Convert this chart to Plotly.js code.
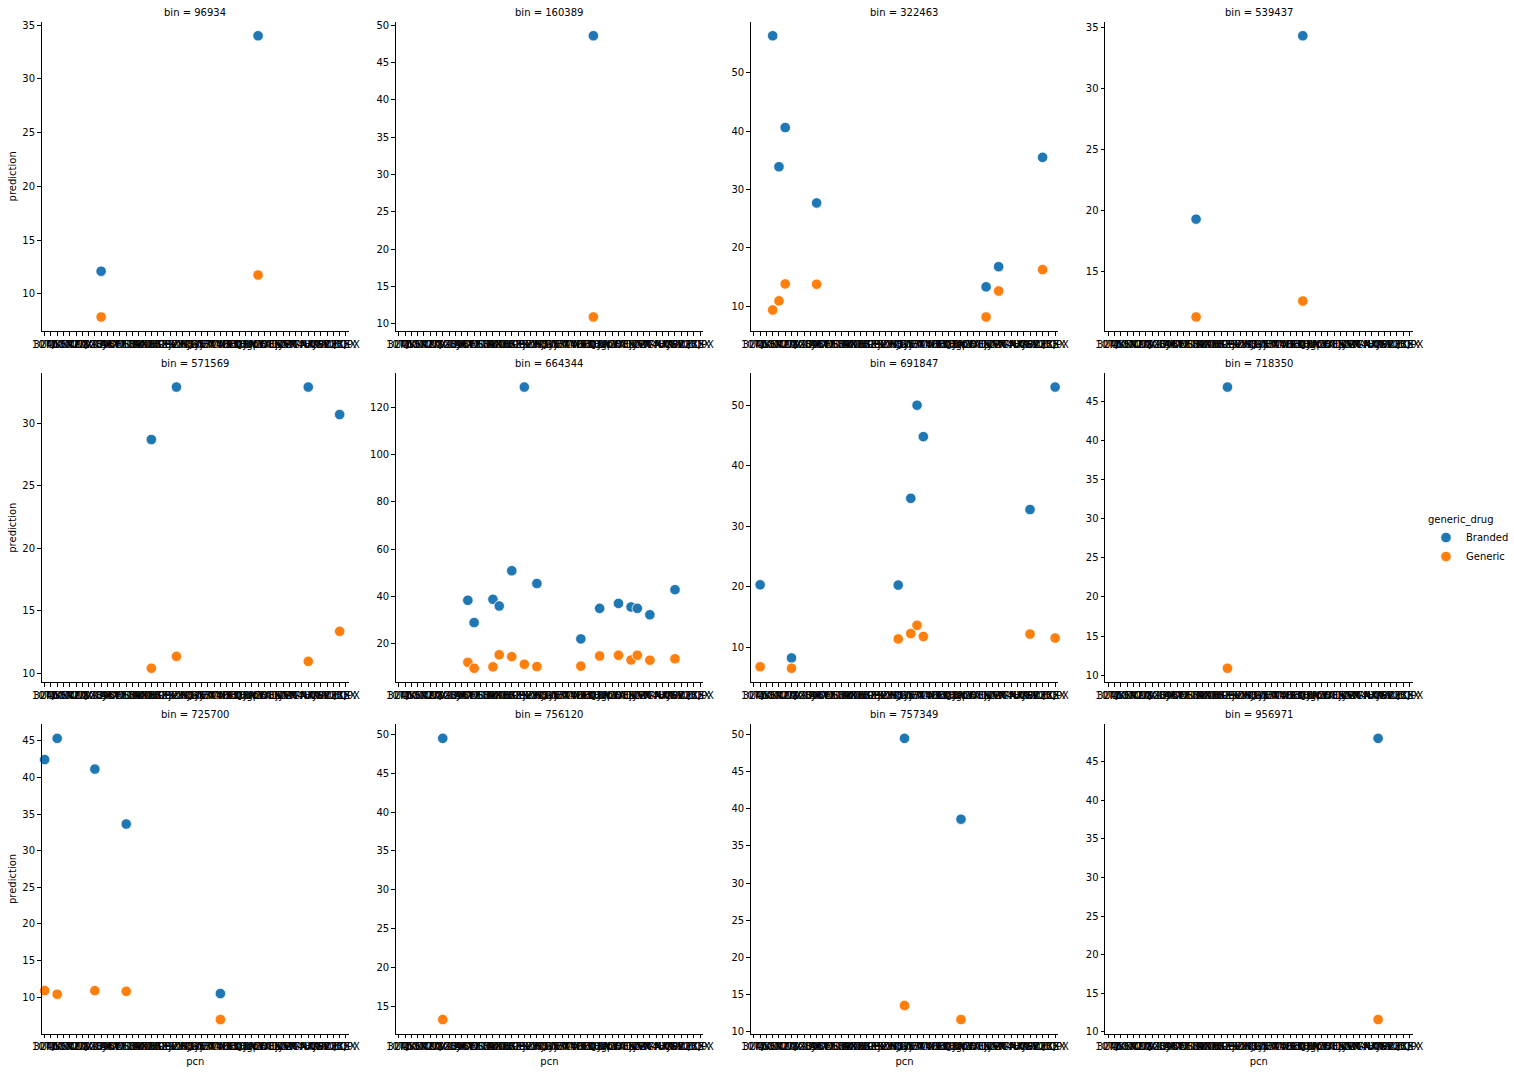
<!DOCTYPE html>
<html>
<head>
<meta charset="utf-8">
<script src="https://cdn.plot.ly/plotly-3.0.1.min.js"></script>
<style>html,body{margin:0;padding:0;background:#fff;}#chart{width:1514px;height:1072px;}</style>
</head>
<body>
<div id="chart"></div>
<script>
// ---- categories (pcn) ----
const categories = ["10TZ","3UQKX","2MKCX","4GSRX","WFMCX","8NZKX","CNZX","PQGB","7VXPX","6ZCMX",
  "DJRX","AHYX","9KWDX","5EHNX","MSZBX","E3RKX","UVTBX","4NBFX","XKGEX","HCPX",
  "B2SZX","R8WNX","jPYRX","ZHJDX","KQ3EX","SyjFX","GT7MX","N5CVX","VMWRX","T4ZHX",
  "Y6ECX","LRQBX","F9HWX","QXNDX","JgpKX","P2BTX","CD8SX","W3MFX","EjyVX","1ZRGX",
  "KW7NX","ZTYHX","M4VWX","AXJKX","UY9RX","G8ZEX","S7QCX","V2BEX","ZQPX"];
const bins = ["96934","160389","322463","539437","571569","664344","691847","718350","725700","756120","757349","956971"];
const hues = ["Branded","Generic"];

// ---- per-bin data: pcn index, Branded prediction, Generic prediction ----
const pcn_96934 = [9, 34];
const branded_96934 = [12.1, 34.0];
const generic_96934 = [7.85, 11.75];

const pcn_160389 = [31];
const branded_160389 = [48.6];
const generic_160389 = [10.9];

const pcn_322463 = [3, 4, 5, 10, 37, 39, 46];
const branded_322463 = [56.3, 33.9, 40.6, 27.7, 13.35, 16.8, 35.5];
const generic_322463 = [9.4, 10.95, 13.85, 13.8, 8.2, 12.65, 16.3];

const pcn_539437 = [14, 31];
const branded_539437 = [19.3, 34.3];
const generic_539437 = [11.3, 12.6];

const pcn_571569 = [17, 21, 42, 47];
const branded_571569 = [28.7, 32.9, 32.9, 30.7];
const generic_571569 = [10.4, 11.35, 10.95, 13.35];

const pcn_664344 = [11, 12, 15, 16, 18, 20, 22, 29, 32, 35, 37, 38, 40, 44];
const branded_664344 = [38.4, 29.0, 38.8, 36.0, 50.9, 128.5, 45.5, 22.1, 35.0, 37.1, 35.6, 35.0, 32.3, 42.9];
const generic_664344 = [12.2, 9.7, 10.3, 15.4, 14.6, 11.4, 10.4, 10.6, 14.9, 15.2, 13.2, 15.2, 13.1, 13.7];

const pcn_691847 = [1, 6, 23, 25, 26, 27, 44, 48];
const branded_691847 = [20.3, 8.2, 20.25, 34.6, 50.0, 44.8, 32.75, 53.0];
const generic_691847 = [6.75, 6.5, 11.35, 12.25, 13.6, 11.75, 12.15, 11.5];

const pcn_718350 = [19];
const branded_718350 = [46.8];
const generic_718350 = [10.9];

const pcn_725700 = [0, 2, 8, 13, 28];
const branded_725700 = [42.45, 45.35, 41.15, 33.65, 10.5];
const generic_725700 = [10.9, 10.4, 10.9, 10.8, 6.95];

const pcn_756120 = [7];
const branded_756120 = [49.5];
const generic_756120 = [13.3];

const pcn_757349 = [24, 33];
const branded_757349 = [49.5, 38.6];
const generic_757349 = [13.5, 11.6];

const pcn_956971 = [43];
const branded_956971 = [48.0];
const generic_956971 = [11.6];

const panelData = {
  "96934": [pcn_96934, branded_96934, generic_96934],
  "160389": [pcn_160389, branded_160389, generic_160389],
  "322463": [pcn_322463, branded_322463, generic_322463],
  "539437": [pcn_539437, branded_539437, generic_539437],
  "571569": [pcn_571569, branded_571569, generic_571569],
  "664344": [pcn_664344, branded_664344, generic_664344],
  "691847": [pcn_691847, branded_691847, generic_691847],
  "718350": [pcn_718350, branded_718350, generic_718350],
  "725700": [pcn_725700, branded_725700, generic_725700],
  "756120": [pcn_756120, branded_756120, generic_756120],
  "757349": [pcn_757349, branded_757349, generic_757349],
  "956971": [pcn_956971, branded_956971, generic_956971]
};

// ---- styling / layout ----
const W = 1514, H = 1072;
const colLeft = [41.7, 397.5, 754.2, 1110.2];
const rowTop = [21.7, 373.0, 724.3];
const axW = 309, axH = 309.3;
const yDtick = [5, 5, 10, 5, 5, 20, 10, 5, 5, 5, 5, 5];
const colors = {Branded: "#1f77b4", Generic: "#ff7f0e"};
const FONT = "DejaVu Sans, sans-serif";

const traces = [];
const layout = {
  width: W, height: H,
  margin: {l: 0, r: 0, t: 0, b: 0},
  paper_bgcolor: "#fff", plot_bgcolor: "#fff",
  font: {family: FONT, size: 10, color: "#000"},
  showlegend: true,
  hovermode: false,
  legend: {
    x: 1433 / W, y: 1 - 510 / H, xanchor: "left", yanchor: "top",
    title: {text: "generic_drug", font: {family: FONT, size: 10, color: "#000"}},
    font: {family: FONT, size: 10, color: "#000"},
    bgcolor: "rgba(0,0,0,0)", borderwidth: 0, itemwidth: 30, tracegroupgap: 0
  },
  annotations: []
};

bins.forEach((b, k) => {
  const r = Math.floor(k / 4), c = k % 4;
  const ax = k === 0 ? "" : String(k + 1);
  const [idx, br, ge] = panelData[b];
  const xs = idx.map(i => categories[i]);
  [[hues[0], br], [hues[1], ge]].forEach(([h, vals]) => {
    traces.push({
      type: "scatter", mode: "markers",
      x: xs, y: vals, name: h, legendgroup: h, showlegend: k === 0,
      xaxis: "x" + ax, yaxis: "y" + ax,
      marker: {color: colors[h], size: 10.5, line: {color: "#fff", width: 0.8}},
      cliponaxis: false
    });
  });
  const all = br.concat(ge);
  const mn = Math.min(...all), mx = Math.max(...all);
  const pad = (mx - mn) * 0.05;
  const L = colLeft[c], T = rowTop[r];
  layout["xaxis" + ax] = {
    domain: [L / W, (L + axW) / W],
    anchor: "y" + ax,
    type: "category",
    categoryorder: "array", categoryarray: categories,
    tickmode: "array", tickvals: categories, ticktext: categories,
    range: [-0.5, categories.length - 0.5],
    tickangle: 0,
    showgrid: false, zeroline: false,
    showline: true, linecolor: "#000", linewidth: 1,
    ticks: "outside", ticklen: 3.5, tickwidth: 1, tickcolor: "#000",
    tickfont: {family: FONT, size: 10, color: "#000"},
    title: r === 2 ? {text: "pcn", font: {family: FONT, size: 10, color: "#000"}, standoff: 6} : {text: ""},
    fixedrange: true
  };
  layout["yaxis" + ax] = {
    domain: [1 - (T + axH) / H, 1 - T / H],
    anchor: "x" + ax,
    range: [mn - pad, mx + pad],
    dtick: yDtick[k], tick0: 0,
    showgrid: false, zeroline: false,
    showline: true, linecolor: "#000", linewidth: 1,
    ticks: "outside", ticklen: 3.5, tickwidth: 1, tickcolor: "#000",
    tickfont: {family: FONT, size: 10, color: "#000"},
    title: c === 0 ? {text: "prediction", font: {family: FONT, size: 10, color: "#000"}, standoff: 3} : {text: ""},
    fixedrange: true
  };
  layout.annotations.push({
    text: "bin = " + b, showarrow: false,
    xref: "paper", yref: "paper",
    x: (L + axW / 2) / W, y: 1 - T / H,
    xanchor: "center", yanchor: "bottom", yshift: 2,
    font: {family: FONT, size: 10, color: "#000"}
  });
});

Plotly.newPlot("chart", traces, layout, {staticPlot: true, displayModeBar: false});
</script>
</body>
</html>
